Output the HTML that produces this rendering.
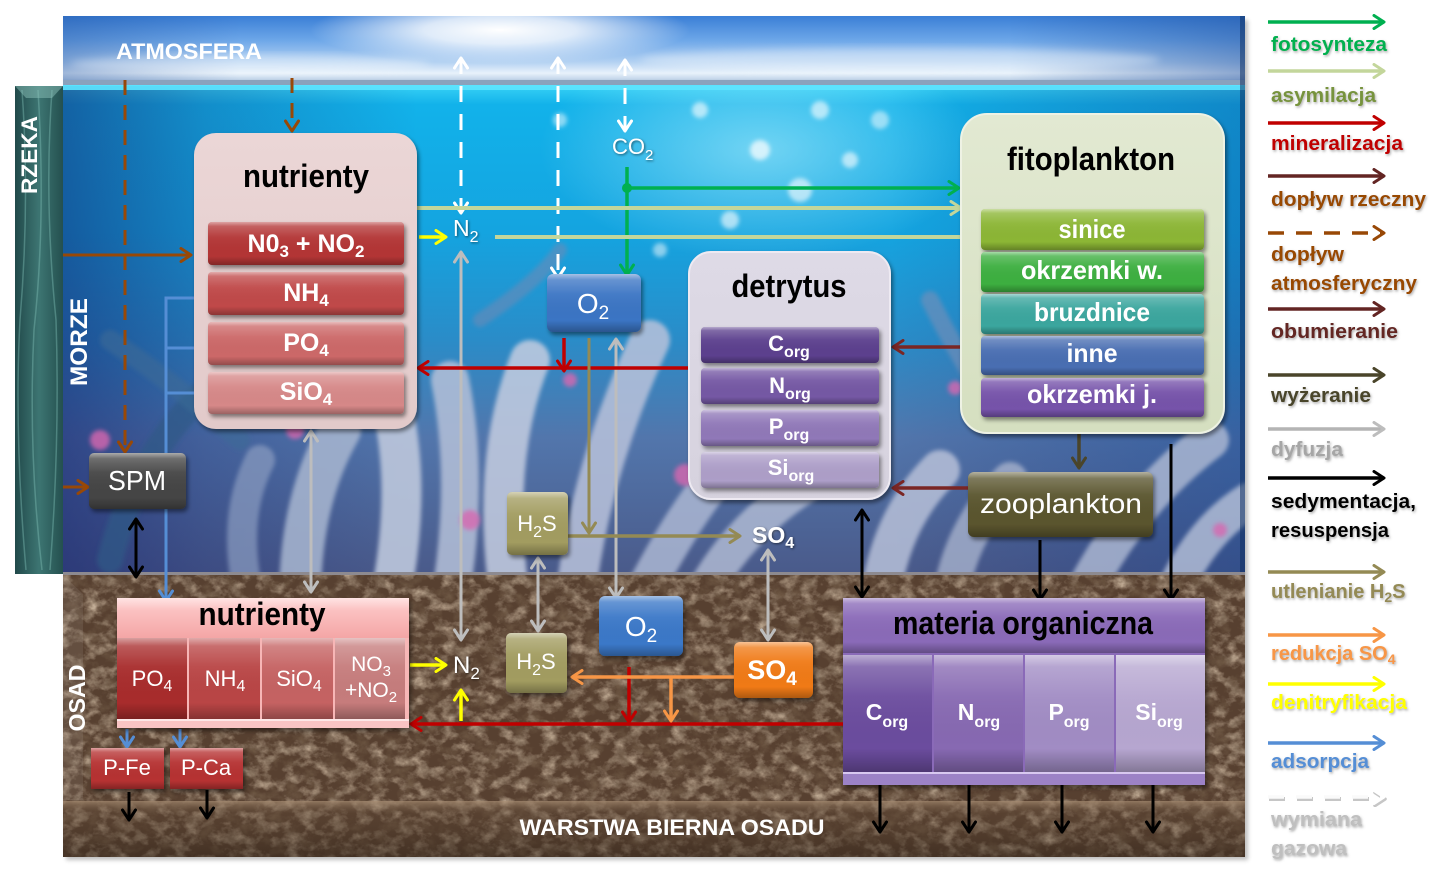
<!DOCTYPE html>
<html><head><meta charset="utf-8"><style>
html,body{margin:0;padding:0;background:#fff;}
svg{display:block;}
text{font-family:"Liberation Sans",sans-serif;}
</style></head><body>
<svg width="1449" height="879" viewBox="0 0 1449 879" xmlns="http://www.w3.org/2000/svg">
<defs>
<linearGradient id="sky" x1="0" y1="0" x2="0" y2="1">
<stop offset="0" stop-color="#3b7fd6"/><stop offset=".35" stop-color="#6ca6e8"/><stop offset=".68" stop-color="#b4d2f2"/><stop offset=".84" stop-color="#e8f2fb"/><stop offset=".93" stop-color="#c4d6ea"/><stop offset="1" stop-color="#6a88a8"/>
</linearGradient>
<linearGradient id="skyH" x1="0" y1="0" x2="1" y2="0">
<stop offset="0" stop-color="#1a4a9a" stop-opacity=".35"/><stop offset=".15" stop-color="#1a4a9a" stop-opacity="0"/><stop offset=".8" stop-color="#1a4a9a" stop-opacity="0"/><stop offset="1" stop-color="#1a4a9a" stop-opacity=".45"/>
</linearGradient>
<radialGradient id="sun" cx="0.5" cy="0.5" r="0.5">
<stop offset="0" stop-color="#fff" stop-opacity="1"/><stop offset=".4" stop-color="#fff" stop-opacity=".8"/><stop offset="1" stop-color="#fff" stop-opacity="0"/>
</radialGradient>
<radialGradient id="glow" cx="0.5" cy="0.5" r="0.5">
<stop offset="0" stop-color="#bff4ff" stop-opacity=".55"/><stop offset="1" stop-color="#bff4ff" stop-opacity="0"/>
</radialGradient>
<linearGradient id="sea" x1="0" y1="0" x2="0" y2="1">
<stop offset="0" stop-color="#38d2f6"/><stop offset=".04" stop-color="#12b2ea"/><stop offset=".3" stop-color="#14a4e0"/><stop offset=".52" stop-color="#2a8cc8"/><stop offset=".72" stop-color="#5276ac"/><stop offset="1" stop-color="#4a5a8a"/>
</linearGradient>
<linearGradient id="seaH" x1="0" y1="0" x2="1" y2="0">
<stop offset="0" stop-color="#14206a" stop-opacity=".55"/><stop offset=".12" stop-color="#14206a" stop-opacity=".25"/><stop offset=".3" stop-color="#14206a" stop-opacity="0"/><stop offset=".7" stop-color="#14206a" stop-opacity="0"/><stop offset="1" stop-color="#0a3a8a" stop-opacity=".35"/>
</linearGradient>
<linearGradient id="river" x1="0" y1="0" x2="1" y2="0">
<stop offset="0" stop-color="#21494a"/><stop offset=".5" stop-color="#3d7572"/><stop offset="1" stop-color="#24504f"/>
</linearGradient>
<linearGradient id="gl" x1="0" y1="0" x2="0" y2="1">
<stop offset="0" stop-color="#fff" stop-opacity=".55"/><stop offset=".1" stop-color="#fff" stop-opacity=".22"/><stop offset=".35" stop-color="#fff" stop-opacity=".05"/><stop offset=".8" stop-color="#000" stop-opacity="0"/><stop offset="1" stop-color="#000" stop-opacity=".28"/>
</linearGradient>
<linearGradient id="nutBox" x1="0" y1="0" x2="0" y2="1"><stop offset="0" stop-color="#ebd6d6"/><stop offset="1" stop-color="#e2caca"/></linearGradient>
<linearGradient id="fitoBox" x1="0" y1="0" x2="0" y2="1"><stop offset="0" stop-color="#e2e9d2"/><stop offset="1" stop-color="#d5dfc0"/></linearGradient>
<linearGradient id="detBox" x1="0" y1="0" x2="0" y2="1"><stop offset="0" stop-color="#dedae6"/><stop offset="1" stop-color="#d6d2de"/></linearGradient>
<linearGradient id="sedHead" x1="0" y1="0" x2="0" y2="1"><stop offset="0" stop-color="#ffe4e4"/><stop offset=".3" stop-color="#fbc2c2"/><stop offset="1" stop-color="#f4a6a6"/></linearGradient>
<linearGradient id="warst" x1="0" y1="0" x2="0" y2="1"><stop offset="0" stop-color="#a48a70" stop-opacity=".75"/><stop offset=".22" stop-color="#5a4432" stop-opacity=".3"/><stop offset="1" stop-color="#2a1e14" stop-opacity=".45"/></linearGradient>
<filter id="tex" filterUnits="userSpaceOnUse" x="63" y="574" width="1182" height="283">
<feTurbulence type="fractalNoise" baseFrequency="0.07 0.09" numOctaves="4" seed="7" result="n"/>
<feColorMatrix in="n" type="matrix" values="0 0 0 0 0.62  0 0 0 0 0.49  0 0 0 0 0.36  2.0 0 0 0 -0.9" result="light"/>
<feColorMatrix in="n" type="matrix" values="0 0 0 0 0.16  0 0 0 0 0.1  0 0 0 0 0.06  0 0 2.2 0 -0.95" result="dark"/>
<feMerge><feMergeNode in="light"/><feMergeNode in="dark"/></feMerge>
</filter>
<filter id="blur4" x="-20%" y="-20%" width="140%" height="140%"><feGaussianBlur stdDeviation="4"/></filter>
<filter id="blur2" x="-20%" y="-20%" width="140%" height="140%"><feGaussianBlur stdDeviation="2"/></filter>
<filter id="ds" x="-10%" y="-10%" width="130%" height="140%"><feDropShadow dx="2" dy="3" stdDeviation="2" flood-color="#000" flood-opacity=".45"/></filter>
<filter id="ts" x="-20%" y="-30%" width="140%" height="160%"><feDropShadow dx="1" dy="1" stdDeviation="1.2" flood-color="#000" flood-opacity=".55"/></filter>
<filter id="lg" x="-10%" y="-30%" width="120%" height="160%"><feDropShadow dx="1" dy="1.5" stdDeviation="1.3" flood-color="#666" flood-opacity=".55"/></filter>
<clipPath id="seaClip"><rect x="63" y="86" width="1182" height="488"/></clipPath>

<marker id="aG" viewBox="0 0 16 16" refX="13" refY="8" markerWidth="16" markerHeight="16" markerUnits="userSpaceOnUse" orient="auto-start-reverse"><path d="M3,1.5 L13,8 L3,14.5" fill="none" stroke="#00b050" stroke-width="3" stroke-linecap="round" stroke-linejoin="round"/></marker>
<marker id="aLG" viewBox="0 0 16 16" refX="13" refY="8" markerWidth="16" markerHeight="16" markerUnits="userSpaceOnUse" orient="auto-start-reverse"><path d="M3,1.5 L13,8 L3,14.5" fill="none" stroke="#c3d69b" stroke-width="3" stroke-linecap="round" stroke-linejoin="round"/></marker>
<marker id="aR" viewBox="0 0 16 16" refX="13" refY="8" markerWidth="16" markerHeight="16" markerUnits="userSpaceOnUse" orient="auto-start-reverse"><path d="M3,1.5 L13,8 L3,14.5" fill="none" stroke="#c00000" stroke-width="3" stroke-linecap="round" stroke-linejoin="round"/></marker>
<marker id="aBR" viewBox="0 0 16 16" refX="13" refY="8" markerWidth="16" markerHeight="16" markerUnits="userSpaceOnUse" orient="auto-start-reverse"><path d="M3,1.5 L13,8 L3,14.5" fill="none" stroke="#984806" stroke-width="3" stroke-linecap="round" stroke-linejoin="round"/></marker>
<marker id="aDR" viewBox="0 0 16 16" refX="13" refY="8" markerWidth="16" markerHeight="16" markerUnits="userSpaceOnUse" orient="auto-start-reverse"><path d="M3,1.5 L13,8 L3,14.5" fill="none" stroke="#7a2624" stroke-width="3" stroke-linecap="round" stroke-linejoin="round"/></marker>
<marker id="aDR2" viewBox="0 0 16 16" refX="13" refY="8" markerWidth="16" markerHeight="16" markerUnits="userSpaceOnUse" orient="auto-start-reverse"><path d="M3,1.5 L13,8 L3,14.5" fill="none" stroke="#632523" stroke-width="3" stroke-linecap="round" stroke-linejoin="round"/></marker>
<marker id="aDO" viewBox="0 0 16 16" refX="13" refY="8" markerWidth="16" markerHeight="16" markerUnits="userSpaceOnUse" orient="auto-start-reverse"><path d="M3,1.5 L13,8 L3,14.5" fill="none" stroke="#4a452a" stroke-width="3" stroke-linecap="round" stroke-linejoin="round"/></marker>
<marker id="aGR" viewBox="0 0 16 16" refX="13" refY="8" markerWidth="16" markerHeight="16" markerUnits="userSpaceOnUse" orient="auto-start-reverse"><path d="M3,1.5 L13,8 L3,14.5" fill="none" stroke="#bdbdbd" stroke-width="3" stroke-linecap="round" stroke-linejoin="round"/></marker>
<marker id="aK" viewBox="0 0 16 16" refX="13" refY="8" markerWidth="16" markerHeight="16" markerUnits="userSpaceOnUse" orient="auto-start-reverse"><path d="M3,1.5 L13,8 L3,14.5" fill="none" stroke="#000" stroke-width="3" stroke-linecap="round" stroke-linejoin="round"/></marker>
<marker id="aOL" viewBox="0 0 16 16" refX="13" refY="8" markerWidth="16" markerHeight="16" markerUnits="userSpaceOnUse" orient="auto-start-reverse"><path d="M3,1.5 L13,8 L3,14.5" fill="none" stroke="#948a54" stroke-width="3" stroke-linecap="round" stroke-linejoin="round"/></marker>
<marker id="aOR" viewBox="0 0 16 16" refX="13" refY="8" markerWidth="16" markerHeight="16" markerUnits="userSpaceOnUse" orient="auto-start-reverse"><path d="M3,1.5 L13,8 L3,14.5" fill="none" stroke="#f79646" stroke-width="3" stroke-linecap="round" stroke-linejoin="round"/></marker>
<marker id="aY" viewBox="0 0 16 16" refX="13" refY="8" markerWidth="16" markerHeight="16" markerUnits="userSpaceOnUse" orient="auto-start-reverse"><path d="M3,1.5 L13,8 L3,14.5" fill="none" stroke="#ffff00" stroke-width="3" stroke-linecap="round" stroke-linejoin="round"/></marker>
<marker id="aB" viewBox="0 0 16 16" refX="13" refY="8" markerWidth="16" markerHeight="16" markerUnits="userSpaceOnUse" orient="auto-start-reverse"><path d="M3,1.5 L13,8 L3,14.5" fill="none" stroke="#558ed5" stroke-width="3" stroke-linecap="round" stroke-linejoin="round"/></marker>
<marker id="aW" viewBox="0 0 16 16" refX="13" refY="8" markerWidth="16" markerHeight="16" markerUnits="userSpaceOnUse" orient="auto-start-reverse"><path d="M3,1.5 L13,8 L3,14.5" fill="none" stroke="#fff" stroke-width="3" stroke-linecap="round" stroke-linejoin="round"/></marker>
<marker id="aWS" viewBox="0 0 16 16" refX="13" refY="8" markerWidth="16" markerHeight="16" markerUnits="userSpaceOnUse" orient="auto-start-reverse"><path d="M3,1.5 L13,8 L3,14.5" fill="none" stroke="#b8b8b8" stroke-width="3.5" stroke-linecap="round" stroke-linejoin="round"/></marker>
</defs>

<rect width="1449" height="879" fill="#fff"/>

<rect x="66" y="20" width="1182" height="840" fill="#000" opacity=".25" filter="url(#blur2)"/>

<!-- ATMOSPHERE -->
<rect x="63" y="16" width="1182" height="68" fill="url(#sky)"/>
<rect x="63" y="16" width="1182" height="68" fill="url(#skyH)"/>
<ellipse cx="500" cy="30" rx="190" ry="34" fill="url(#sun)"/>
<ellipse cx="900" cy="60" rx="260" ry="12" fill="#fff" opacity=".35" filter="url(#blur4)"/>
<ellipse cx="250" cy="64" rx="180" ry="9" fill="#fff" opacity=".35" filter="url(#blur4)"/>
<rect x="63" y="80" width="1182" height="5" fill="#8aa2bc"/>

<!-- SEA -->
<rect x="63" y="85" width="1182" height="489" fill="url(#sea)"/>
<g clip-path="url(#seaClip)">
<rect x="63" y="85" width="1182" height="489" fill="url(#seaH)"/>
<ellipse cx="760" cy="150" rx="220" ry="110" fill="url(#glow)"/>
<g filter="url(#blur2)">
<circle cx="760" cy="150" r="10" fill="#fff" opacity=".7"/>
<circle cx="800" cy="190" r="12" fill="#fff" opacity=".6"/>
<circle cx="730" cy="220" r="9" fill="#fff" opacity=".6"/>
<circle cx="850" cy="160" r="8" fill="#fff" opacity=".6"/>
<circle cx="660" cy="250" r="7" fill="#fff" opacity=".5"/>
<circle cx="880" cy="120" r="9" fill="#fff" opacity=".5"/>
<circle cx="700" cy="110" r="8" fill="#fff" opacity=".6"/>
<circle cx="820" cy="110" r="9" fill="#fff" opacity=".6"/>
<circle cx="560" cy="120" r="7" fill="#fff" opacity=".5"/>
</g>
<g filter="url(#blur2)" fill="none" stroke-linecap="round">
<path d="M110 560 Q140 440 230 370" stroke="#2e5a86" stroke-width="26" opacity=".7"/>
<path d="M240 440 Q170 380 110 340" stroke="#3a6a96" stroke-width="20" opacity=".6"/>
<path d="M300 600 Q300 500 340 430" stroke="#a8b6d0" stroke-width="42" opacity=".85"/>
<path d="M390 600 Q410 500 395 420" stroke="#bcc6dc" stroke-width="40" opacity=".9"/>
<path d="M450 600 Q470 480 450 380" stroke="#b4c0d8" stroke-width="38" opacity=".85"/>
<path d="M510 600 Q490 460 530 360" stroke="#c4cce0" stroke-width="40" opacity=".85"/>
<path d="M575 600 Q590 470 650 340" stroke="#b8c2da" stroke-width="40" opacity=".85"/>
<path d="M640 600 Q700 480 770 420" stroke="#aab6d2" stroke-width="38" opacity=".85"/>
<path d="M700 600 Q740 520 830 470" stroke="#b4bed6" stroke-width="36" opacity=".8"/>
<path d="M880 600 Q890 520 940 470" stroke="#b6c0d8" stroke-width="40" opacity=".85"/>
<path d="M950 600 Q960 530 1010 480" stroke="#a6b2cc" stroke-width="36" opacity=".8"/>
<path d="M1080 600 Q1130 500 1210 440" stroke="#b0bcd4" stroke-width="38" opacity=".8"/>
<path d="M1170 600 Q1200 530 1250 500" stroke="#b8c2da" stroke-width="36" opacity=".8"/>
<path d="M1000 420 Q960 360 930 300" stroke="#7890b8" stroke-width="18" opacity=".6"/>
<path d="M480 320 Q540 280 560 250" stroke="#6a8ab8" stroke-width="14" opacity=".6"/>
<path d="M250 600 Q230 520 260 460" stroke="#8a9cc0" stroke-width="30" opacity=".7"/>
</g>
<g filter="url(#blur2)" fill="#d868b0" opacity=".8">
<circle cx="100" cy="440" r="10"/><circle cx="470" cy="520" r="10"/><circle cx="685" cy="475" r="11"/>
<circle cx="1000" cy="300" r="8"/><circle cx="955" cy="388" r="7"/><circle cx="295" cy="430" r="9"/>
<circle cx="570" cy="380" r="7"/><circle cx="1220" cy="530" r="7"/>
</g>
</g>
<rect x="63" y="85" width="1182" height="5" fill="#5ee4ff" opacity=".9"/>
<rect x="1240" y="16" width="5" height="558" fill="#0a2a5a" opacity=".5"/>

<!-- RIVER -->
<rect x="15" y="86" width="48" height="488" fill="url(#river)"/>
<g fill="none" stroke="#7ab8b0" stroke-width="1.5" opacity=".45">
<path d="M22 90 Q30 200 20 320 Q14 430 26 570"/>
<path d="M38 90 Q46 220 34 330 Q28 450 42 570"/>
<path d="M52 90 Q44 200 56 320 Q60 440 50 570"/>
</g>
<polygon points="15,86 63,86 52,98 26,98" fill="#8ac0b8" opacity=".5"/>
<text transform="translate(37,155) rotate(-90)" text-anchor="middle" font-size="22" font-weight="bold" fill="#fff" textLength="78" lengthAdjust="spacingAndGlyphs">RZEKA</text>

<!-- SEDIMENT -->
<rect x="63" y="574" width="1182" height="283" fill="#574030"/>
<rect x="63" y="574" width="1182" height="283" fill="#000" filter="url(#tex)"/>
<rect x="63" y="572" width="1182" height="3" fill="#8d8a90"/>
<polygon points="63,575 83,594 83,800 63,800" fill="#fff" opacity=".08"/>
<rect x="63" y="801" width="1182" height="56" fill="url(#warst)"/>

<text x="189" y="59" text-anchor="middle" font-size="22" font-weight="bold" fill="#fff" textLength="146" lengthAdjust="spacingAndGlyphs">ATMOSFERA</text>
<text transform="translate(87,342) rotate(-90)" text-anchor="middle" font-size="24" font-weight="bold" fill="#fff" textLength="88" lengthAdjust="spacingAndGlyphs">MORZE</text>
<text transform="translate(85,698) rotate(-90)" text-anchor="middle" font-size="23" font-weight="bold" fill="#fff" textLength="67" lengthAdjust="spacingAndGlyphs">OSAD</text>
<text x="672" y="835" text-anchor="middle" font-size="22" font-weight="bold" fill="#fff" textLength="305" lengthAdjust="spacingAndGlyphs">WARSTWA BIERNA OSADU</text>

<!-- CONNECTORS -->
<g fill="none" stroke-width="3">
<line x1="125" y1="80" x2="125" y2="452" stroke="#984806" stroke-dasharray="15 10" marker-end="url(#aBR)"/>
<line x1="292" y1="78" x2="292" y2="131" stroke="#984806" stroke-dasharray="15 10" marker-end="url(#aBR)"/>
<line x1="63" y1="255" x2="191" y2="255" stroke="#984806" marker-end="url(#aBR)"/>
<line x1="63" y1="487" x2="88" y2="487" stroke="#984806" marker-end="url(#aBR)"/>
<polyline points="208,298 166,298 166,601" stroke="#558ed5" marker-end="url(#aB)"/>
<line x1="208" y1="348" x2="166" y2="348" stroke="#558ed5"/>
<line x1="208" y1="393" x2="166" y2="393" stroke="#558ed5"/>
<line x1="127" y1="729" x2="127" y2="747" stroke="#558ed5" marker-end="url(#aB)"/>
<line x1="180" y1="729" x2="180" y2="747" stroke="#558ed5" marker-end="url(#aB)"/>
<line x1="461" y1="252" x2="461" y2="640" stroke="#bdbdbd" marker-start="url(#aGR)" marker-end="url(#aGR)"/>
<line x1="311" y1="431" x2="311" y2="592" stroke="#bdbdbd" marker-start="url(#aGR)" marker-end="url(#aGR)"/>
<line x1="616" y1="339" x2="616" y2="598" stroke="#bdbdbd" marker-start="url(#aGR)" marker-end="url(#aGR)"/>
<line x1="538" y1="558" x2="538" y2="631" stroke="#bdbdbd" marker-start="url(#aGR)" marker-end="url(#aGR)"/>
<line x1="768" y1="550" x2="768" y2="640" stroke="#bdbdbd" marker-start="url(#aGR)" marker-end="url(#aGR)"/>
<line x1="461" y1="58" x2="461" y2="213" stroke="#fff" stroke-dasharray="16 12" marker-start="url(#aW)" marker-end="url(#aW)"/>
<line x1="558" y1="58" x2="558" y2="278" stroke="#fff" stroke-dasharray="16 12" marker-start="url(#aW)" marker-end="url(#aW)"/>
<line x1="625" y1="60" x2="625" y2="131" stroke="#fff" stroke-dasharray="16 12" marker-start="url(#aW)" marker-end="url(#aW)"/>
<line x1="627" y1="167" x2="627" y2="275" stroke="#00b050" stroke-width="3.5" marker-end="url(#aG)"/>
<line x1="627" y1="188" x2="959" y2="188" stroke="#00b050" stroke-width="3.5" marker-end="url(#aG)"/>
<line x1="417" y1="208" x2="961" y2="208" stroke="#c3d69b" stroke-width="4" marker-end="url(#aLG)"/>
<line x1="495" y1="237" x2="988" y2="237" stroke="#c3d69b" stroke-width="4" marker-end="url(#aLG)"/>
<line x1="419" y1="237" x2="446" y2="237" stroke="#ffff00" stroke-width="3.5" marker-end="url(#aY)"/>
<line x1="410" y1="665" x2="446" y2="665" stroke="#ffff00" stroke-width="3.5" marker-end="url(#aY)"/>
<line x1="461" y1="721" x2="461" y2="690" stroke="#ffff00" stroke-width="3.5" marker-end="url(#aY)"/>
<line x1="689" y1="368" x2="418" y2="368" stroke="#c00000" stroke-width="3.5" marker-end="url(#aR)"/>
<line x1="564" y1="338" x2="564" y2="371" stroke="#c00000" stroke-width="3.5" marker-end="url(#aR)"/>
<line x1="843" y1="724" x2="411" y2="724" stroke="#c00000" stroke-width="3.5" marker-end="url(#aR)"/>
<line x1="629" y1="667" x2="629" y2="722" stroke="#c00000" stroke-width="3.5" marker-end="url(#aR)"/>
<line x1="961" y1="347" x2="893" y2="347" stroke="#7a2624" stroke-width="3.5" marker-end="url(#aDR)"/>
<line x1="968" y1="488" x2="893" y2="488" stroke="#7a2624" stroke-width="3.5" marker-end="url(#aDR)"/>
<line x1="1079" y1="433" x2="1079" y2="468" stroke="#4a452a" stroke-width="3.5" marker-end="url(#aDO)"/>
<line x1="589" y1="338" x2="589" y2="533" stroke="#948a54" stroke-width="3" marker-end="url(#aOL)"/>
<line x1="566" y1="536" x2="740" y2="536" stroke="#948a54" stroke-width="3.5" marker-end="url(#aOL)"/>
<line x1="735" y1="677" x2="572" y2="677" stroke="#f79646" stroke-width="3.5" marker-end="url(#aOR)"/>
<line x1="671" y1="677" x2="671" y2="721" stroke="#f79646" stroke-width="3.5" marker-end="url(#aOR)"/>
<line x1="136" y1="519" x2="136" y2="577" stroke="#000" marker-start="url(#aK)" marker-end="url(#aK)"/>
<line x1="129" y1="792" x2="129" y2="820" stroke="#000" marker-end="url(#aK)"/>
<line x1="207" y1="790" x2="207" y2="818" stroke="#000" marker-end="url(#aK)"/>
<line x1="862" y1="510" x2="862" y2="597" stroke="#000" marker-start="url(#aK)" marker-end="url(#aK)"/>
<line x1="1040" y1="540" x2="1040" y2="600" stroke="#000" marker-end="url(#aK)"/>
<line x1="1171" y1="444" x2="1171" y2="600" stroke="#000" marker-end="url(#aK)"/>
<line x1="880" y1="781" x2="880" y2="832" stroke="#000" marker-end="url(#aK)"/>
<line x1="969" y1="781" x2="969" y2="832" stroke="#000" marker-end="url(#aK)"/>
<line x1="1062" y1="781" x2="1062" y2="832" stroke="#000" marker-end="url(#aK)"/>
<line x1="1153" y1="781" x2="1153" y2="832" stroke="#000" marker-end="url(#aK)"/>
</g>
<circle cx="627" cy="188" r="5" fill="#00b050"/>

<!-- WATER NUTRIENTY -->
<rect x="194" y="133" width="223" height="296" rx="22" fill="url(#nutBox)" filter="url(#ds)"/>
<text x="306" y="187" text-anchor="middle" font-size="32" font-weight="bold" fill="#000" textLength="126" lengthAdjust="spacingAndGlyphs">nutrienty</text>
<g filter="url(#ds)">
<rect x="208" y="222" width="196" height="43" rx="4" fill="#b33434"/>
<rect x="208" y="272" width="196" height="43" rx="4" fill="#c04848"/>
<rect x="208" y="322" width="196" height="43" rx="4" fill="#cc6767"/>
<rect x="208" y="372" width="196" height="42" rx="4" fill="#d68888"/>
</g>
<rect x="208" y="222" width="196" height="43" rx="4" fill="url(#gl)"/>
<rect x="208" y="272" width="196" height="43" rx="4" fill="url(#gl)"/>
<rect x="208" y="322" width="196" height="43" rx="4" fill="url(#gl)"/>
<rect x="208" y="372" width="196" height="42" rx="4" fill="url(#gl)"/>
<g fill="#fff" font-weight="bold" text-anchor="middle" font-size="25">
<text x="306" y="252">N0<tspan font-size="17" dy="5">3</tspan><tspan dy="-5"> + NO</tspan><tspan font-size="17" dy="5">2</tspan></text>
<text x="306" y="301">NH<tspan font-size="17" dy="5">4</tspan></text>
<text x="306" y="351">PO<tspan font-size="17" dy="5">4</tspan></text>
<text x="306" y="400">SiO<tspan font-size="17" dy="5">4</tspan></text>
</g>

<g fill="#fff" filter="url(#ts)">
<text x="453" y="236" font-size="23">N<tspan font-size="16" dy="6">2</tspan></text>
<text x="612" y="154" font-size="22">CO<tspan font-size="15" dy="6">2</tspan></text>
<text x="453" y="673" font-size="24">N<tspan font-size="17" dy="6">2</tspan></text>
<text x="752" y="543" font-size="23" font-weight="bold">SO<tspan font-size="16" dy="5">4</tspan></text>
</g>

<rect x="547" y="274" width="94" height="58" rx="6" fill="#3a74c4" filter="url(#ds)"/>
<rect x="547" y="274" width="94" height="58" rx="6" fill="url(#gl)"/>
<text x="593" y="313" text-anchor="middle" font-size="28" fill="#fff">O<tspan font-size="19" dy="6">2</tspan></text>

<rect x="507" y="492" width="61" height="63" rx="5" fill="#a29c60" filter="url(#ds)"/>
<rect x="507" y="492" width="61" height="63" rx="5" fill="url(#gl)"/>
<text x="537" y="531" text-anchor="middle" font-size="22" fill="#fff">H<tspan font-size="16" dy="6">2</tspan><tspan dy="-6">S</tspan></text>

<!-- DETRYTUS -->
<rect x="689" y="252" width="201" height="247" rx="22" fill="url(#detBox)" stroke="#eeeaf2" stroke-width="2" filter="url(#ds)"/>
<text x="789" y="297" text-anchor="middle" font-size="32" font-weight="bold" fill="#000" textLength="115" lengthAdjust="spacingAndGlyphs">detrytus</text>
<g filter="url(#ds)">
<rect x="701" y="327" width="178" height="36" rx="4" fill="#5c408e"/>
<rect x="701" y="368" width="178" height="36" rx="4" fill="#7558a4"/>
<rect x="701" y="410" width="178" height="36" rx="4" fill="#9078b8"/>
<rect x="701" y="452" width="178" height="36" rx="4" fill="#ad9ec8"/>
</g>
<rect x="701" y="327" width="178" height="36" rx="4" fill="url(#gl)"/>
<rect x="701" y="368" width="178" height="36" rx="4" fill="url(#gl)"/>
<rect x="701" y="410" width="178" height="36" rx="4" fill="url(#gl)"/>
<rect x="701" y="452" width="178" height="36" rx="4" fill="url(#gl)"/>
<g fill="#fff" font-weight="bold" text-anchor="middle" font-size="22">
<text x="789" y="351">C<tspan font-size="16" dy="6">org</tspan></text>
<text x="790" y="393">N<tspan font-size="16" dy="6">org</tspan></text>
<text x="789" y="434">P<tspan font-size="16" dy="6">org</tspan></text>
<text x="791" y="475">Si<tspan font-size="16" dy="6">org</tspan></text>
</g>

<!-- FITOPLANKTON -->
<rect x="961" y="114" width="263" height="319" rx="26" fill="url(#fitoBox)" stroke="#eef2e4" stroke-width="2" filter="url(#ds)"/>
<text x="1091" y="170" text-anchor="middle" font-size="32" font-weight="bold" fill="#000" textLength="168" lengthAdjust="spacingAndGlyphs">fitoplankton</text>
<g filter="url(#ds)">
<rect x="981" y="209" width="223" height="41" rx="4" fill="#8cb634"/>
<rect x="981" y="252" width="223" height="40" rx="4" fill="#3eaf40"/>
<rect x="981" y="294" width="223" height="40" rx="4" fill="#3aa69e"/>
<rect x="981" y="336" width="223" height="39" rx="4" fill="#4a6eb2"/>
<rect x="981" y="378" width="223" height="39" rx="4" fill="#7652aa"/>
</g>
<rect x="981" y="209" width="223" height="41" rx="4" fill="url(#gl)"/>
<rect x="981" y="252" width="223" height="40" rx="4" fill="url(#gl)"/>
<rect x="981" y="294" width="223" height="40" rx="4" fill="url(#gl)"/>
<rect x="981" y="336" width="223" height="39" rx="4" fill="url(#gl)"/>
<rect x="981" y="378" width="223" height="39" rx="4" fill="url(#gl)"/>
<g fill="#fff" font-weight="bold" text-anchor="middle" font-size="26">
<text x="1092" y="238" textLength="67" lengthAdjust="spacingAndGlyphs">sinice</text>
<text x="1092" y="279" textLength="142" lengthAdjust="spacingAndGlyphs">okrzemki w.</text>
<text x="1092" y="321" textLength="116" lengthAdjust="spacingAndGlyphs">bruzdnice</text>
<text x="1092" y="362" textLength="51" lengthAdjust="spacingAndGlyphs">inne</text>
<text x="1092" y="403" textLength="130" lengthAdjust="spacingAndGlyphs">okrzemki j.</text>
</g>

<!-- ZOOPLANKTON -->
<rect x="968" y="472" width="185" height="65" rx="6" fill="#5a552f" filter="url(#ds)"/>
<rect x="968" y="472" width="185" height="65" rx="6" fill="url(#gl)"/>
<text x="1061" y="513" text-anchor="middle" font-size="28" fill="#fff" textLength="162" lengthAdjust="spacingAndGlyphs">zooplankton</text>

<!-- SPM -->
<rect x="89" y="453" width="97" height="56" rx="5" fill="#454545" filter="url(#ds)"/>
<rect x="89" y="453" width="97" height="56" rx="5" fill="url(#gl)"/>
<text x="137" y="490" text-anchor="middle" font-size="28" fill="#fff" textLength="58" lengthAdjust="spacingAndGlyphs">SPM</text>

<!-- SEDIMENT NUTRIENTY -->
<g filter="url(#ds)">
<rect x="117" y="598" width="292" height="130" fill="#f7b6b6"/>
</g>
<rect x="117" y="598" width="292" height="40" fill="url(#sedHead)"/>
<rect x="117" y="719" width="292" height="9" fill="#f9c4c4"/>
<rect x="117" y="719" width="292" height="2" fill="#fff" opacity=".6"/>
<rect x="117" y="638" width="70" height="81" fill="#a82c2c"/>
<rect x="189" y="638" width="71" height="81" fill="#b94545"/>
<rect x="262" y="638" width="71" height="81" fill="#c56262"/>
<rect x="335" y="638" width="70" height="81" fill="#c67c7c"/>
<g fill="url(#gl)">
<rect x="117" y="638" width="70" height="81"/><rect x="189" y="638" width="71" height="81"/><rect x="262" y="638" width="71" height="81"/><rect x="335" y="638" width="70" height="81"/>
</g>
<text x="262" y="625" text-anchor="middle" font-size="32" font-weight="bold" fill="#000" textLength="127" lengthAdjust="spacingAndGlyphs">nutrienty</text>
<g fill="#fff" text-anchor="middle" font-size="22">
<text x="152" y="686">PO<tspan font-size="16" dy="5">4</tspan></text>
<text x="225" y="686">NH<tspan font-size="16" dy="5">4</tspan></text>
<text x="299" y="686">SiO<tspan font-size="16" dy="5">4</tspan></text>
<text x="371" y="671" font-size="21">NO<tspan font-size="15" dy="5">3</tspan></text>
<text x="371" y="697" font-size="21">+NO<tspan font-size="15" dy="5">2</tspan></text>
</g>

<g filter="url(#ds)">
<rect x="91" y="748" width="73" height="41" fill="#b63232"/>
<rect x="170" y="748" width="73" height="41" fill="#b63232"/>
</g>
<rect x="91" y="748" width="73" height="41" fill="url(#gl)"/>
<rect x="170" y="748" width="73" height="41" fill="url(#gl)"/>
<g fill="#fff" text-anchor="middle" font-size="22">
<text x="127" y="775">P-Fe</text>
<text x="206" y="775">P-Ca</text>
</g>

<rect x="506" y="633" width="61" height="60" rx="5" fill="#a29c60" filter="url(#ds)"/>
<rect x="506" y="633" width="61" height="60" rx="5" fill="url(#gl)"/>
<text x="536" y="669" text-anchor="middle" font-size="22" fill="#fff">H<tspan font-size="16" dy="6">2</tspan><tspan dy="-6">S</tspan></text>

<rect x="599" y="596" width="84" height="60" rx="6" fill="#3a78c8" filter="url(#ds)"/>
<rect x="599" y="596" width="84" height="60" rx="6" fill="url(#gl)"/>
<text x="641" y="636" text-anchor="middle" font-size="28" fill="#fff">O<tspan font-size="19" dy="6">2</tspan></text>

<rect x="734" y="642" width="79" height="56" rx="6" fill="#f07a12" filter="url(#ds)"/>
<rect x="734" y="642" width="79" height="56" rx="6" fill="url(#gl)"/>
<text x="772" y="679" text-anchor="middle" font-size="27" font-weight="bold" fill="#fff">SO<tspan font-size="19" dy="6">4</tspan></text>

<!-- MATERIA ORGANICZNA -->
<g filter="url(#ds)">
<rect x="843" y="598" width="362" height="187" fill="#8a6ab8"/>
</g>
<rect x="843" y="598" width="362" height="55" fill="url(#gl)"/>
<rect x="843" y="655" width="89" height="117" fill="#6b4c9e"/>
<rect x="934" y="655" width="89" height="117" fill="#8769b2"/>
<rect x="1025" y="655" width="89" height="117" fill="#a18cc4"/>
<rect x="1116" y="655" width="89" height="117" fill="#b6a6d0"/>
<g fill="url(#gl)">
<rect x="843" y="655" width="89" height="117"/><rect x="934" y="655" width="89" height="117"/><rect x="1025" y="655" width="89" height="117"/><rect x="1116" y="655" width="89" height="117"/>
</g>
<rect x="843" y="772" width="362" height="13" fill="#9c82c6"/>
<rect x="843" y="772" width="362" height="2" fill="#d8c8f0"/>
<text x="1023" y="634" text-anchor="middle" font-size="32" font-weight="bold" fill="#000" textLength="260" lengthAdjust="spacingAndGlyphs">materia organiczna</text>
<g fill="#fff" font-weight="bold" text-anchor="middle" font-size="23">
<text x="887" y="720">C<tspan font-size="16" dy="7">org</tspan></text>
<text x="979" y="720">N<tspan font-size="16" dy="7">org</tspan></text>
<text x="1069" y="720">P<tspan font-size="16" dy="7">org</tspan></text>
<text x="1159" y="720">Si<tspan font-size="16" dy="7">org</tspan></text>
</g>

<!-- LEGEND -->
<g fill="none" stroke-width="3.5">
<line x1="1268" y1="22" x2="1384" y2="22" stroke="#00b050" marker-end="url(#aG)"/>
<line x1="1268" y1="71" x2="1384" y2="71" stroke="#c3d69b" marker-end="url(#aLG)"/>
<line x1="1268" y1="123" x2="1384" y2="123" stroke="#c00000" marker-end="url(#aR)"/>
<line x1="1268" y1="176" x2="1384" y2="176" stroke="#632523" marker-end="url(#aDR2)"/>
<line x1="1268" y1="233" x2="1384" y2="233" stroke="#984806" stroke-dasharray="16 12" marker-end="url(#aBR)"/>
<line x1="1268" y1="309" x2="1384" y2="309" stroke="#632523" marker-end="url(#aDR2)"/>
<line x1="1268" y1="375" x2="1384" y2="375" stroke="#4a452a" marker-end="url(#aDO)"/>
<line x1="1268" y1="429" x2="1384" y2="429" stroke="#b4b4b4" marker-end="url(#aGR)"/>
<line x1="1268" y1="478" x2="1384" y2="478" stroke="#000" marker-end="url(#aK)"/>
<line x1="1268" y1="572" x2="1384" y2="572" stroke="#948a54" marker-end="url(#aOL)"/>
<line x1="1268" y1="635" x2="1384" y2="635" stroke="#f79646" marker-end="url(#aOR)"/>
<line x1="1268" y1="684" x2="1384" y2="684" stroke="#ffff00" marker-end="url(#aY)"/>
<line x1="1268" y1="743" x2="1384" y2="743" stroke="#558ed5" marker-end="url(#aB)"/>
<line x1="1269" y1="799" x2="1385" y2="799" stroke="#b8b8b8" stroke-width="4" stroke-dasharray="16 12" marker-end="url(#aWS)" opacity=".8"/>
<line x1="1268" y1="797" x2="1384" y2="797" stroke="#fafafa" stroke-dasharray="16 12" marker-end="url(#aW)"/>
</g>
<g font-size="20" font-weight="bold" filter="url(#lg)">
<text x="1271" y="51" fill="#00b050" textLength="116" lengthAdjust="spacingAndGlyphs">fotosynteza</text>
<text x="1271" y="102" fill="#77933c" textLength="105" lengthAdjust="spacingAndGlyphs">asymilacja</text>
<text x="1271" y="150" fill="#c00000" textLength="132" lengthAdjust="spacingAndGlyphs">mineralizacja</text>
<text x="1271" y="206" fill="#984806" textLength="155" lengthAdjust="spacingAndGlyphs">dopływ rzeczny</text>
<text x="1271" y="261" fill="#984806" textLength="73" lengthAdjust="spacingAndGlyphs">dopływ</text>
<text x="1271" y="290" fill="#984806" textLength="146" lengthAdjust="spacingAndGlyphs">atmosferyczny</text>
<text x="1271" y="338" fill="#632523" textLength="127" lengthAdjust="spacingAndGlyphs">obumieranie</text>
<text x="1271" y="402" fill="#4a452a" textLength="100" lengthAdjust="spacingAndGlyphs">wyżeranie</text>
<text x="1271" y="456" fill="#a6a6a6" textLength="72" lengthAdjust="spacingAndGlyphs">dyfuzja</text>
<text x="1271" y="508" fill="#000" textLength="145" lengthAdjust="spacingAndGlyphs">sedymentacja,</text>
<text x="1271" y="537" fill="#000" textLength="118" lengthAdjust="spacingAndGlyphs">resuspensja</text>
<text x="1271" y="598" fill="#948a54">utlenianie H<tspan font-size="14" dy="4">2</tspan><tspan dy="-4">S</tspan></text>
<text x="1271" y="660" fill="#f79646">redukcja SO<tspan font-size="14" dy="4">4</tspan></text>
<text x="1271" y="709" fill="#ffff00" textLength="136" lengthAdjust="spacingAndGlyphs">denitryfikacja</text>
<text x="1271" y="768" fill="#558ed5" textLength="98" lengthAdjust="spacingAndGlyphs">adsorpcja</text>
<text x="1271" y="826" fill="#bfbfbf" textLength="91" lengthAdjust="spacingAndGlyphs">wymiana</text>
<text x="1271" y="855" fill="#bfbfbf" textLength="76" lengthAdjust="spacingAndGlyphs">gazowa</text>
</g>
</svg>
</body></html>
